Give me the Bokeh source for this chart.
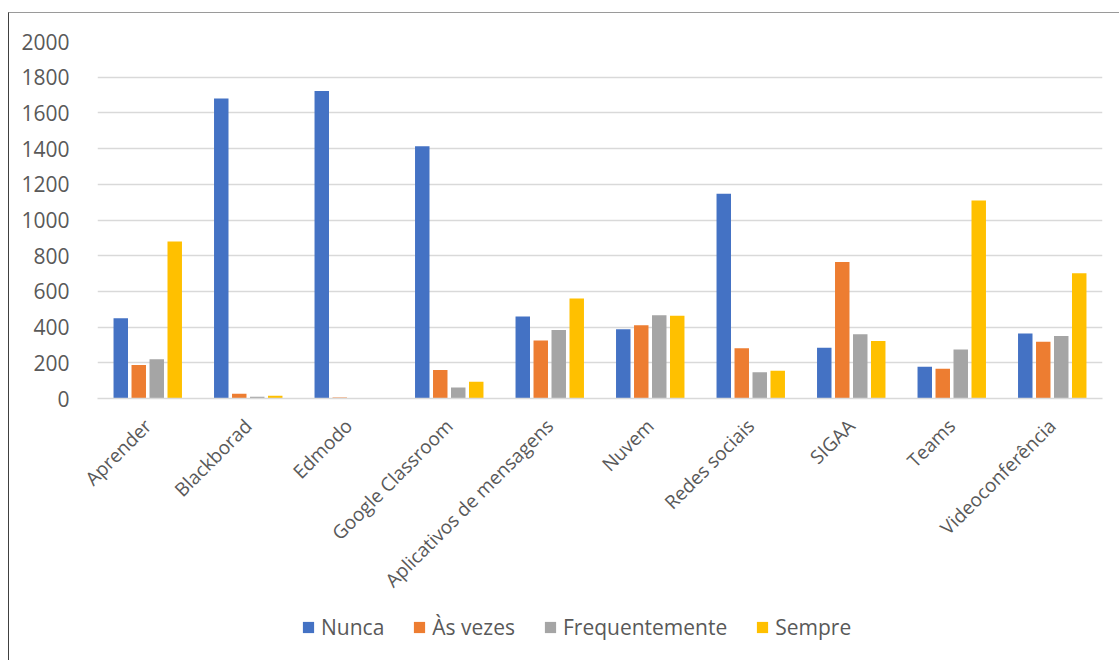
import math

from bokeh.plotting import figure
from bokeh.layouts import column
from bokeh.models import ColumnDataSource, FactorRange, Range1d, Legend, LegendItem, FixedTicker
from bokeh.transform import dodge
from bokeh.embed import file_html
from bokeh.resources import INLINE

# Platforms / tools asked about
categories = [
    "Aprender",
    "Blackborad",
    "Edmodo",
    "Google Classroom",
    "Aplicativos de mensagens",
    "Nuvem",
    "Redes sociais",
    "SIGAA",
    "Teams",
    "Videoconferência",
]

# Number of answers per frequency of use
nunca = [450, 1681, 1722, 1413, 460, 388, 1147, 285, 178, 364]
as_vezes = [188, 26, 6, 160, 325, 411, 281, 765, 166, 318]
frequentemente = [220, 10, 0, 62, 384, 466, 147, 360, 274, 350]
sempre = [880, 15, 0, 94, 560, 463, 155, 322, 1109, 702]

series_labels = ["Nunca", "Às vezes", "Frequentemente", "Sempre"]
series_keys = ["nunca", "as_vezes", "frequentemente", "sempre"]
series_colors = ["#4472C4", "#ED7D31", "#A5A5A5", "#FFC000"]

y_ticks = list(range(0, 2001, 200))

source = ColumnDataSource(dict(
    categoria=categories,
    nunca=nunca,
    as_vezes=as_vezes,
    frequentemente=frequentemente,
    sempre=sempre,
))

TEXT = "#595959"
FONT = "Open Sans"

# --- main bar chart -------------------------------------------------------
p = figure(
    x_range=FactorRange(*categories),
    y_range=Range1d(0, 2000),
    width=1110,
    height=600,
    output_backend="svg",
    toolbar_location=None,
    min_border_left=88,
    min_border_right=17,
    min_border_top=28,
    min_border_bottom=215,
    background_fill_color="white",
    border_fill_color="white",
)
p.outline_line_color = None

bar_width = 0.144
step = 0.179
offsets = [-1.5 * step, -0.5 * step, 0.5 * step, 1.5 * step]

renderers = []
for key, color, off in zip(series_keys, series_colors, offsets):
    r = p.vbar(
        x=dodge("categoria", off, range=p.x_range),
        top=key,
        width=bar_width,
        source=source,
        fill_color=color,
        line_color=None,
    )
    renderers.append(r)

p.xgrid.grid_line_color = None
p.ygrid.grid_line_color = "#d9d9d9"
p.ygrid.grid_line_width = 1.5

p.yaxis.ticker = FixedTicker(ticks=y_ticks)
p.yaxis.axis_line_color = None
p.yaxis.major_tick_line_color = None
p.yaxis.minor_tick_line_color = None
p.yaxis.major_label_text_font = FONT
p.yaxis.major_label_text_font_size = "21px"
p.yaxis.major_label_text_color = TEXT
p.yaxis.major_label_standoff = 22

p.xaxis.axis_line_color = "#d9d9d9"
p.xaxis.axis_line_width = 1.5
p.xaxis.major_tick_line_color = None
p.xaxis.minor_tick_line_color = None
p.xaxis.major_label_orientation = math.pi / 4
p.xaxis.major_label_text_font = FONT
p.xaxis.major_label_text_font_size = "19px"
p.xaxis.major_label_text_color = TEXT
p.xaxis.major_label_standoff = 18

# --- legend strip below the chart -----------------------------------------
leg = figure(
    width=1110,
    height=47,
    x_range=Range1d(0, 1),
    y_range=Range1d(0, 1),
    output_backend="svg",
    toolbar_location=None,
    x_axis_location=None,
    y_axis_location=None,
    min_border=0,
    background_fill_color="white",
    border_fill_color="white",
)
leg.outline_line_color = None
leg.grid.grid_line_color = None

# zero-height swatch renderers that only feed the legend glyphs
swatches = []
for color in series_colors:
    swatches.append(leg.vbar(x=[0.5], top=[0], width=0.01, fill_color=color, line_color=None))

legend = Legend(
    items=[LegendItem(label=lab, renderers=[r]) for lab, r in zip(series_labels, swatches)],
    location=(204, 19),
    orientation="horizontal",
    glyph_width=14,
    glyph_height=14,
    label_standoff=6,
    spacing=28,
    padding=0,
    margin=0,
    border_line_color=None,
    background_fill_alpha=0,
    label_text_font=FONT,
    label_text_font_size="21px",
    label_text_color=TEXT,
)
leg.add_layout(legend)

layout = column(p, leg, spacing=0)
layout.styles = {
    "margin-left": "8px",
    "margin-top": "12px",
    "border-left": "1px solid #404040",
    "border-top": "1px solid #9a9a9a",
}

open("out.html", "w").write(file_html(layout, INLINE))
